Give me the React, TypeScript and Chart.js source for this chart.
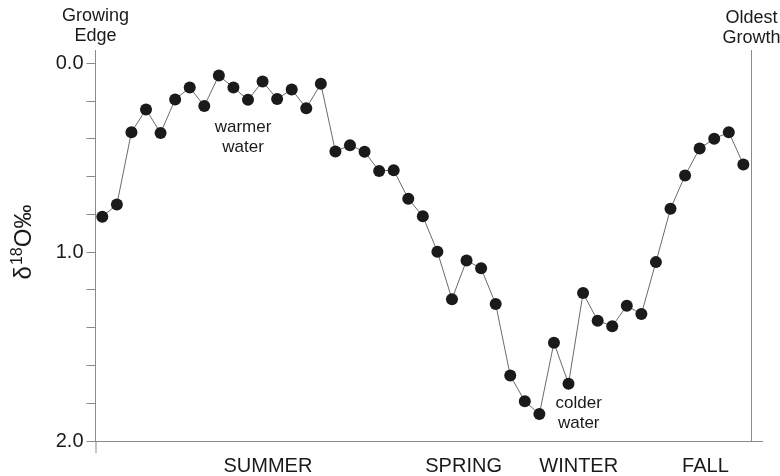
import React, { useEffect, useRef } from "react";
import { Chart, registerables } from "chart.js";

Chart.register(...registerables);

// δ18O values (‰), from growing edge (left) to oldest growth (right)
const delta18O = [
  0.813, 0.748, 0.365, 0.245, 0.369, 0.192, 0.129, 0.226, 0.065, 0.129,
  0.194, 0.097, 0.189, 0.139, 0.238, 0.109, 0.467, 0.434, 0.469, 0.57,
  0.566, 0.718, 0.81, 0.998, 1.249, 1.044, 1.086, 1.275, 1.653, 1.79,
  1.857, 1.48, 1.697, 1.217, 1.363, 1.392, 1.284, 1.328, 1.053, 0.771,
  0.594, 0.451, 0.4, 0.365, 0.536,
];
const sampleIndex = delta18O.map((_, i) => i);

const yTickValues = [0, 0.2, 0.4, 0.6, 0.8, 1.0, 1.2, 1.4, 1.6, 1.8, 2.0];
const yLabeledTicks = [0, 1, 2];

const seasonLabels = ["SUMMER", "SPRING", "WINTER", "FALL"];
const seasonPositions = [11.37, 24.8, 32.7, 41.4];

const oldestGrowthIndex = 44.51;

const FONT = "'Liberation Sans', Arial, Helvetica, sans-serif";

export default function App() {
  const canvasRef = useRef<HTMLCanvasElement | null>(null);

  useEffect(() => {
    const canvas = canvasRef.current;
    if (!canvas) return;

    const decorPlugin = {
      id: "decor",
      afterDraw(chart: any) {
        const ctx = chart.ctx as CanvasRenderingContext2D;
        const area = chart.chartArea;
        const xs = chart.scales.x;
        const ys = chart.scales.y;
        ctx.save();

        // y axis extension below the x axis
        ctx.strokeStyle = "#8a8a8a";
        ctx.lineWidth = 1;
        ctx.beginPath();
        ctx.moveTo(area.left + 0.5, area.bottom);
        ctx.lineTo(area.left + 0.5, area.bottom + 12);
        ctx.stroke();

        // oldest growth vertical line
        const xo = Math.round(xs.getPixelForValue(oldestGrowthIndex)) + 0.5;
        ctx.beginPath();
        ctx.moveTo(xo, area.top);
        ctx.lineTo(xo, area.bottom);
        ctx.stroke();

        ctx.fillStyle = "#1a1a1a";
        ctx.textAlign = "center";
        ctx.textBaseline = "alphabetic";

        // Top labels
        ctx.font = `18px ${FONT}`;
        ctx.fillText("Growing", area.left, 21);
        ctx.fillText("Edge", area.left, 41);
        ctx.fillText("Oldest", xo, 23);
        ctx.fillText("Growth", xo, 43);

        // season labels
        ctx.font = `20px ${FONT}`;
        seasonLabels.forEach((s, i) => {
          ctx.fillText(s, xs.getPixelForValue(seasonPositions[i]), 472);
        });

        // annotations
        ctx.font = `17px ${FONT}`;
        const wx = xs.getPixelForValue(9.66);
        const wy = ys.getPixelForValue(0.363);
        ctx.fillText("warmer", wx, wy);
        ctx.fillText("water", wx, wy + 20);
        const cx = xs.getPixelForValue(32.7);
        const cy = ys.getPixelForValue(1.825);
        ctx.fillText("colder", cx, cy);
        ctx.fillText("water", cx, cy + 20);

        // y title: δ18O‰ rotated
        ctx.translate(31, 242);
        ctx.rotate(-Math.PI / 2);
        ctx.textAlign = "left";
        const big = `24px ${FONT}`;
        const small = `16px ${FONT}`;
        ctx.font = big;
        const wD = ctx.measureText("δ").width;
        const wRest = ctx.measureText("O‰").width;
        ctx.font = small;
        const wS = ctx.measureText("18").width;
        const total = wD + wS + wRest + 1;
        let px = -total / 2;
        ctx.font = big;
        ctx.fillText("δ", px, 0);
        px += wD + 1;
        ctx.font = small;
        ctx.fillText("18", px, -9);
        px += wS;
        ctx.font = big;
        ctx.fillText("O‰", px, 0);

        ctx.restore();
      },
    };

    const chart = new Chart(canvas, {
      type: "scatter",
      data: {
        datasets: [
          {
            data: sampleIndex.map((i) => ({ x: i, y: delta18O[i] })),
            showLine: true,
            borderColor: "#6a6a6a",
            borderWidth: 1,
            pointRadius: 6,
            pointHoverRadius: 6,
            pointBackgroundColor: "#1a1a1a",
            pointBorderColor: "#1a1a1a",
            pointBorderWidth: 0,
          },
        ],
      },
      options: {
        animation: false,
        responsive: false,
        maintainAspectRatio: false,
        layout: { padding: { top: 50, right: 18, left: 0, bottom: 0 } },
        plugins: {
          legend: { display: false },
          tooltip: { enabled: false },
        },
        scales: {
          x: {
            type: "linear",
            min: -0.467,
            max: 45.28,
            afterFit: (scale: any) => {
              scale.height = 35;
            },
            grid: { display: false },
            ticks: { display: false },
            border: { display: true, color: "#8a8a8a", width: 1 },
          },
          y: {
            type: "linear",
            reverse: true,
            min: -0.07,
            max: 2.0,
            afterFit: (scale: any) => {
              scale.width = 95.5;
            },
            afterBuildTicks: (scale: any) => {
              scale.ticks = yTickValues.map((v) => ({ value: v }));
            },
            grid: {
              drawOnChartArea: false,
              drawTicks: true,
              tickLength: 9,
              tickColor: "#8a8a8a",
              color: "#8a8a8a",
            },
            border: { display: true, color: "#8a8a8a", width: 1 },
            ticks: {
              padding: 3,
              color: "#1a1a1a",
              font: { family: FONT, size: 20 },
              callback: (v: any) => {
                const n = Number(v);
                return yLabeledTicks.some((t) => Math.abs(t - n) < 1e-6)
                  ? n.toFixed(1)
                  : "";
              },
            },
          },
        },
      },
      plugins: [decorPlugin],
    });

    return () => chart.destroy();
  }, []);

  return (
    <div
      style={{
        position: "fixed",
        left: 0,
        top: 0,
        width: 780,
        height: 476,
        background: "#ffffff",
      }}
    >
      <canvas ref={canvasRef} width={780} height={476} style={{ width: 780, height: 476 }} />
    </div>
  );
}
